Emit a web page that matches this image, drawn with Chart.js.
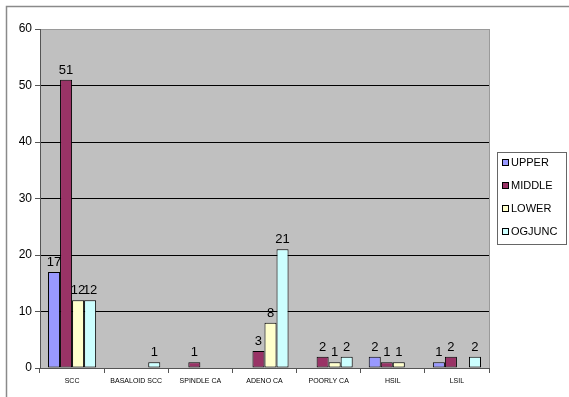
<!DOCTYPE html>
<html>
<head>
<meta charset="utf-8">
<script src="https://cdn.jsdelivr.net/npm/chart.js@4/dist/chart.umd.min.js"></script>
<style>
  html, body { margin: 0; padding: 0; background: #fff; }
  canvas { display: block; }
</style>
</head>
<body>
<canvas id="tumour-site-chart" width="569" height="397"></canvas>

<script>
    // chart values
    const categories = ['SCC', 'BASALOID SCC', 'SPINDLE CA', 'ADENO CA', 'POORLY CA', 'HSIL', 'LSIL'];
    const upperValues = [17, 0, 0, 0, 0, 2, 1];
    const middleValues = [51, 0, 1, 3, 2, 1, 2];
    const lowerValues = [12, 0, 0, 8, 1, 1, 0];
    const ogJuncValues = [12, 1, 0, 21, 2, 0, 2];
    const seriesNames = ['UPPER', 'MIDDLE', 'LOWER', 'OGJUNC'];
    const seriesColors = ['#9999FF', '#993366', '#FFFFCC', '#CCFFFF'];

    const FONT = 'Liberation Sans, Arial, sans-serif';

    // gray plot background + outer frame
    const backdrop = {
        id: 'backdrop',
        beforeDraw(chart) {
            const {ctx, chartArea: a} = chart;
            ctx.save();
            ctx.strokeStyle = '#8a8a8a';
            ctx.lineWidth = 1.5;
            ctx.beginPath();
            ctx.moveTo(6.5, chart.height);
            ctx.lineTo(6.5, 6.5);
            ctx.lineTo(chart.width, 6.5);
            ctx.stroke();
            ctx.fillStyle = '#C0C0C0';
            ctx.fillRect(a.left, a.top, a.right - a.left, a.bottom - a.top);
            ctx.strokeStyle = '#9a9a9a';
            ctx.lineWidth = 1;
            ctx.strokeRect(a.left + 0.5, a.top + 0.5, a.right - a.left, a.bottom - a.top);
            ctx.restore();
        }
    };

    // numbers above the non-zero bars
    const valueLabels = {
        id: 'valueLabels',
        afterDatasetsDraw(chart) {
            const ctx = chart.ctx;
            ctx.save();
            ctx.fillStyle = '#000';
            ctx.font = '13px ' + FONT;
            ctx.textAlign = 'center';
            ctx.textBaseline = 'bottom';
            chart.data.datasets.forEach((ds, i) => {
                chart.getDatasetMeta(i).data.forEach((bar, j) => {
                    if (ds.data[j] > 0) ctx.fillText(ds.data[j], bar.x, bar.y - 3);
                });
            });
            ctx.restore();
        }
    };

    // boxed legend on the right
    const boxLegend = {
        id: 'boxLegend',
        afterDraw(chart) {
            const ctx = chart.ctx;
            const x = 497, y = 152, w = 69, h = 92;
            ctx.save();
            ctx.fillStyle = '#fff';
            ctx.fillRect(x, y, w, h);
            ctx.strokeStyle = '#666';
            ctx.lineWidth = 1;
            ctx.strokeRect(x + 0.5, y + 0.5, w, h);
            ctx.font = '11px ' + FONT;
            ctx.textBaseline = 'middle';
            chart.data.datasets.forEach((ds, i) => {
                const cy = y + 11 + i * 23;
                ctx.fillStyle = ds.backgroundColor;
                ctx.fillRect(x + 5.5, cy - 3.5, 6, 6);
                ctx.strokeStyle = '#000';
                ctx.strokeRect(x + 5.5, cy - 3.5, 6, 6);
                ctx.fillStyle = '#000';
                ctx.fillText(ds.label, x + 14, cy);
            });
            ctx.restore();
        }
    };

    const seriesValues = [upperValues, middleValues, lowerValues, ogJuncValues];

    new Chart(document.getElementById('tumour-site-chart'), {
        type: 'bar',
        data: {
            labels: categories,
            datasets: seriesValues.map((vals, i) => ({
                label: seriesNames[i],
                data: vals,
                backgroundColor: seriesColors[i],
                borderColor: '#000',
                borderWidth: 1,
                borderSkipped: false,
                categoryPercentage: 0.75,
                barPercentage: 1
            }))
        },
        options: {
            responsive: false,
            animation: false,
            layout: {padding: {top: 29, right: 80, left: 0, bottom: 0}},
            plugins: {
                legend: {display: false},
                tooltip: {enabled: false}
            },
            scales: {
                x: {
                    afterFit: s => { s.height = 29; },
                    grid: {
                        drawOnChartArea: false,
                        drawTicks: true,
                        tickLength: 5,
                        color: '#555'
                    },
                    border: {color: '#555'},
                    ticks: {
                        color: '#000',
                        font: {family: FONT, size: 7},
                        maxRotation: 0,
                        autoSkip: false,
                        padding: 4
                    }
                },
                y: {
                    min: 0,
                    max: 60,
                    afterFit: s => { s.width = 40; },
                    grid: {
                        color: c => (c.tick && c.tick.value === 60) ? '#9a9a9a' : '#000',
                        tickColor: '#555',
                        tickLength: 5,
                        lineWidth: 1
                    },
                    border: {color: '#555'},
                    ticks: {
                        stepSize: 10,
                        color: '#000',
                        font: {family: FONT, size: 12},
                        padding: 3
                    }
                }
            }
        },
        plugins: [backdrop, valueLabels, boxLegend]
    });
</script>
</body>
</html>
